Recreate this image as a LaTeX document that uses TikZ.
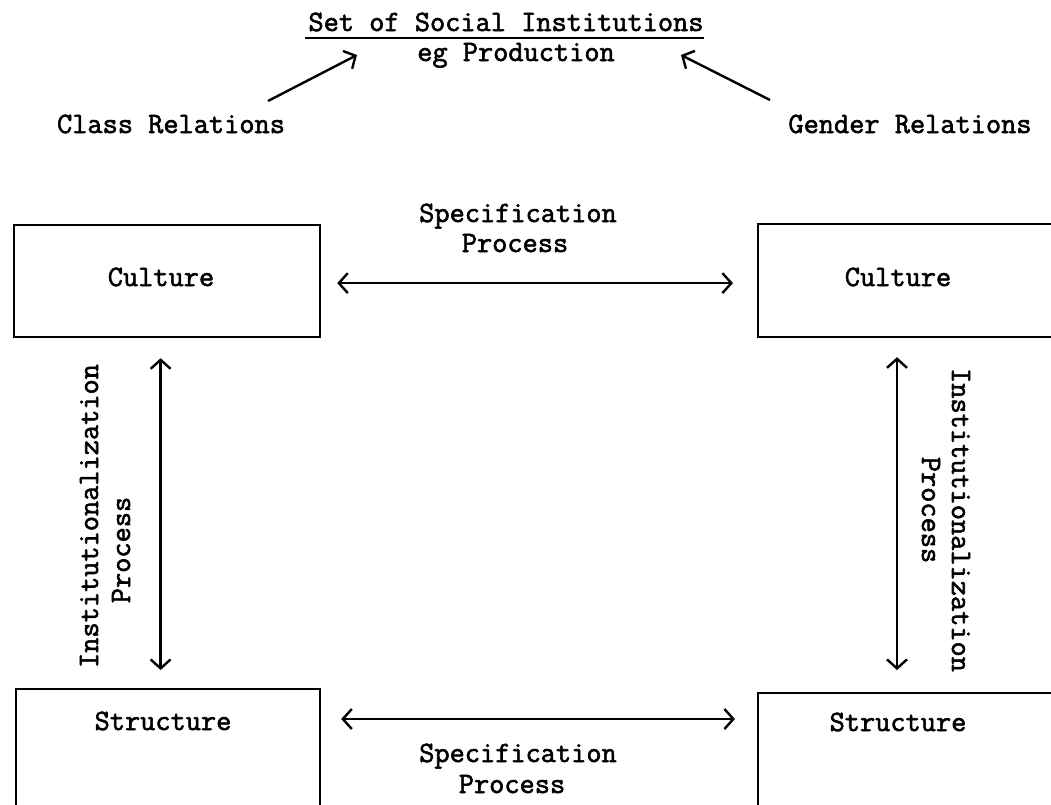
\documentclass[tikz,border=0pt]{standalone}
\usepackage{fontspec}
\newfontfamily\tw{Latin Modern Mono}[FakeBold=2]
\usetikzlibrary{arrows.meta}
\begin{document}
\begin{tikzpicture}[x=1pt,y=-1pt,
  txt/.style={font=\fontsize{29.5}{31}\selectfont\tw, inner sep=0pt, anchor=base},
  box/.style={draw, line width=2.2pt, inner sep=0pt},
  link/.style={line width=2.4pt, {Straight Barb[length=9pt,width=20pt]}-{Straight Barb[length=9pt,width=20pt]}},
  ray/.style={line width=2.4pt, -{Straight Barb[length=9pt,width=20pt]}}
]
\path[use as bounding box] (0,0) rectangle (1051,804);
\clip (0,0) rectangle (1051,804);

% heading with underline
\node[txt] (title) at (506,31) {Set of Social Institutions};
\draw[line width=2.2pt] ([xshift=-3pt,yshift=-7pt]title.base west) -- ([yshift=-7pt]title.base east);
\node[txt] (eg) at (516,61) {eg Production};

% the two kinds of relations
\node[txt] (cls) at (171,133) {Class Relations};
\node[txt] (gen) at (910,133) {Gender Relations};
\coordinate (clsT) at (268,101);
\coordinate (clsH) at (357,55);
\coordinate (genT) at (770,100);
\coordinate (genH) at (681,55);
\draw[ray] (clsT) -- (clsH);
\draw[ray] (genT) -- (genH);

% boxes
\node[box, minimum width=306pt, minimum height=112pt, anchor=north west] (cul1) at (13,224) {};
\node[box, minimum width=308pt, minimum height=113pt, anchor=north west] (cul2) at (757,223) {};
\node[box, minimum width=304pt, minimum height=160pt, anchor=north west] (str1) at (15,688) {};
\node[box, minimum width=308pt, minimum height=160pt, anchor=north west] (str2) at (757,692) {};

\node[txt] (cul1t) at (161,286) {Culture};
\node[txt] (cul2t) at (898,286) {Culture};
\node[txt] (str1t) at (163,730) {Structure};
\node[txt] (str2t) at (898,731) {Structure};

% specification process, top
\node[txt] (sp1a) at (518,222) {Specification};
\node[txt] (sp1b) at (515,252) {Process};
\draw[link, shorten <=16pt, shorten >=24pt] ([yshift=-2pt]cul1.east) -- ([yshift=-2pt]cul2.west |- cul1.east);

% specification process, bottom
\node[txt] (sp2a) at (518,762) {Specification};
\node[txt] (sp2b) at (512,793) {Process};
\draw[link, shorten <=20pt, shorten >=22pt] ([yshift=-31pt]str1.north east) -- ([yshift=-31pt]str2.north west |- str1.north east);

% institutionalization process, left
\draw[link, shorten <=20pt, shorten >=18pt] ([xshift=-6.5pt]cul1.south) -- ([xshift=-6.5pt]cul1.south |- str1.north);
\node[txt, rotate=90] (in1a) at (98,516) {Institutionalization};
\node[txt, rotate=90] (in1b) at (130,550) {Process};

% institutionalization process, right
\draw[link, shorten <=19pt, shorten >=22pt] ([xshift=140pt]cul2.south west) -- ([xshift=140pt]str2.north west);
\node[txt, rotate=-90] (in2a) at (952,520) {Institutionalization};
\node[txt, rotate=-90] (in2b) at (922,510) {Process};
\end{tikzpicture}
\end{document}
